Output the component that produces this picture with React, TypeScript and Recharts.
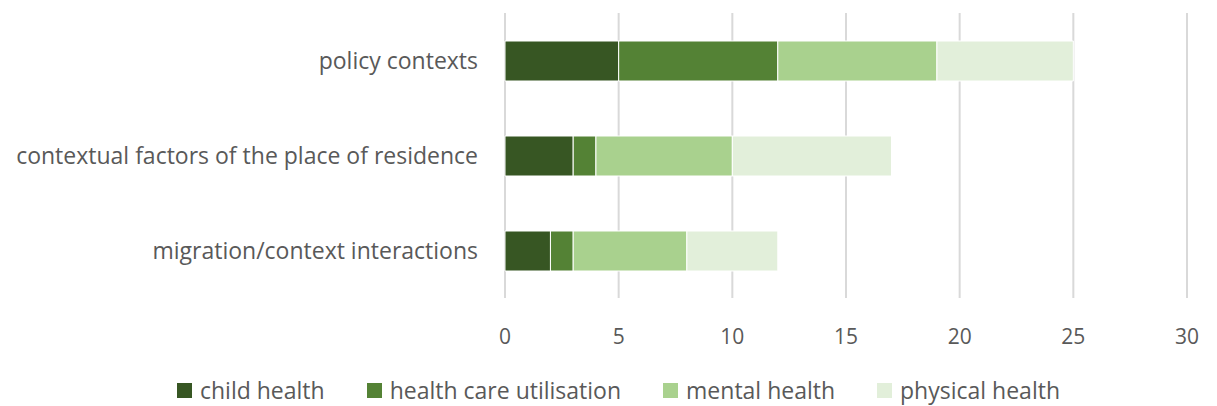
import { Bar, BarChart, CartesianGrid, Legend, XAxis, YAxis } from "recharts";

const categories = [
  "policy contexts",
  "contextual factors of the place of residence",
  "migration/context interactions",
];
const childHealth = [5, 3, 2];
const healthCareUtilisation = [7, 1, 1];
const mentalHealth = [7, 6, 5];
const physicalHealth = [6, 7, 4];
const xTicks = [0, 5, 10, 15, 20, 25, 30];

const series = [
  { key: "child", name: "child health", color: "#375623" },
  { key: "care", name: "health care utilisation", color: "#548235" },
  { key: "mental", name: "mental health", color: "#a9d18e" },
  { key: "physical", name: "physical health", color: "#e2efda" },
];

const data = categories.map((name, i) => ({
  name,
  child: childHealth[i],
  care: healthCareUtilisation[i],
  mental: mentalHealth[i],
  physical: physicalHealth[i],
}));

const font = "'Open Sans', sans-serif";

function LegendRow() {
  return (
    <div
      style={{
        display: "flex",
        justifyContent: "center",
        gap: 42,
        paddingTop: 14,
        paddingLeft: 50,
        fontSize: 23,
        color: "#595959",
        fontFamily: font,
      }}
    >
      {series.map((s) => (
        <div key={s.key} style={{ display: "flex", alignItems: "center", gap: 8 }}>
          <span style={{ width: 15, height: 15, background: s.color, display: "inline-block" }} />
          <span>{s.name}</span>
        </div>
      ))}
    </div>
  );
}

export default function App() {
  return (
    <div style={{ position: "absolute", left: 0, top: 0, background: "#fff", fontFamily: font }}>
      <BarChart
        width={1217}
        height={406}
        data={data}
        layout="vertical"
        barSize={40}
        margin={{ top: 13, right: 30, bottom: 0, left: 0 }}
      >
        <CartesianGrid horizontal={false} stroke="#d9d9d9" strokeWidth={2} />
        <XAxis
          type="number"
          domain={[0, 30]}
          ticks={xTicks}
          axisLine={false}
          tickLine={false}
          tickMargin={25}
          height={62}
          tick={{ fontSize: 21, fill: "#595959", fontFamily: font }}
        />
        <YAxis
          type="category"
          dataKey="name"
          width={505}
          axisLine={false}
          tickLine={false}
          tickMargin={21}
          tick={{ fontSize: 23, fill: "#595959", fontFamily: font }}
        />
        <Legend verticalAlign="bottom" height={46} content={() => <LegendRow />} />
        {series.map((s) => (
          <Bar
            key={s.key}
            dataKey={s.key}
            name={s.name}
            stackId="a"
            fill={s.color}
            stroke="#fff"
            strokeWidth={1}
            isAnimationActive={false}
          />
        ))}
      </BarChart>
    </div>
  );
}
